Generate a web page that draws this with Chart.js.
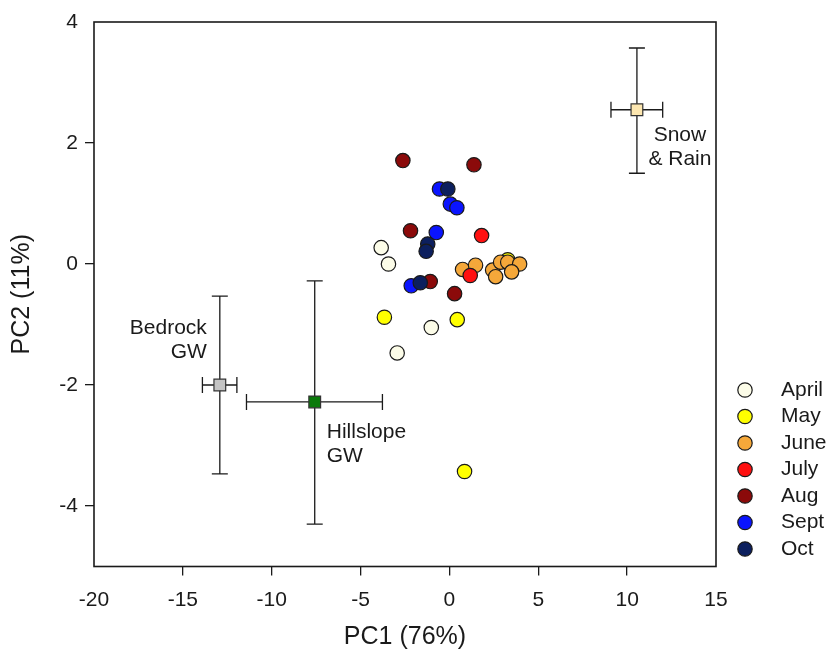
<!DOCTYPE html>
<html><head><meta charset="utf-8">
<script src="https://cdn.jsdelivr.net/npm/chart.js@4.4.1/dist/chart.umd.min.js"></script>
<style>html,body{margin:0;padding:0;background:#fff}#wrap{width:830px;height:656px}</style>
</head><body><div id="wrap"><canvas id="c" width="830" height="656"></canvas></div>
<script>
// ---- data ----
const xTicks = [-20, -15, -10, -5, 0, 5, 10, 15];
const yTicks = [-4, -2, 0, 2, 4];
const months = ['April', 'May', 'June', 'July', 'Aug', 'Sept', 'Oct'];
const monthColors = ['#fcfce8', '#ffff00', '#f5a83a', '#ff1010', '#8b0a0a', '#0a14ff', '#0c1f5e'];

const aprilX = [-3.84, -3.43, -1.02, -2.94];
const aprilY = [0.27, 0.00, -1.05, -1.47];
const mayX = [-3.66, 0.44, 0.85, 3.28];
const mayY = [-0.88, -0.92, -3.43, 0.07];
const juneX = [0.74, 1.47, 2.43, 2.60, 2.88, 3.28, 3.95, 3.50];
const juneY = [-0.09, -0.02, -0.10, -0.21, 0.03, 0.03, 0.00, -0.13];
const julyX = [1.81, 1.17];
const julyY = [0.47, -0.19];
const augX = [-2.62, 1.38, -2.19, -1.08, 0.29];
const augY = [1.71, 1.64, 0.55, -0.29, -0.49];
const septX = [-0.56, 0.05, 0.42, -0.74, -2.15];
const septY = [1.24, 0.99, 0.93, 0.52, -0.36];
const octX = [-0.09, -1.22, -1.31, -1.64];
const octY = [1.24, 0.33, 0.21, -0.31];

const monthXs = [aprilX, mayX, juneX, julyX, augX, septX, octX];
const monthYs = [aprilY, mayY, juneY, julyY, augY, septY, octY];

const sourceNames = ['Snow & Rain', 'Bedrock GW', 'Hillslope GW'];
const sourceLines = [['Snow', '& Rain'], ['Bedrock', 'GW'], ['Hillslope', 'GW']];
const sourceX = [10.55, -12.92, -7.58];
const sourceY = [2.55, -2.00, -2.28];
const sourceXLow = [9.09, -13.90, -11.42];
const sourceXHigh = [12.00, -11.96, -3.77];
const sourceYLow = [1.50, -3.47, -4.30];
const sourceYHigh = [3.57, -0.53, -0.28];
const sourceColors = ['#fde7b0', '#c4c4c4', '#0a7a0a'];

// ---- styles ----
const FONT = "'Liberation Sans', Arial, sans-serif";
const INK = '#1a1a1a';
const labelStyle = [
  { align: 'center', dx: 43, dy: 25 },
  { align: 'right', dx: -13, dy: -57 },
  { align: 'left', dx: 12, dy: 30 }
];

const datasets = [];
months.forEach((m, i) => {
  datasets.push({
    label: m,
    data: monthXs[i].map((x, k) => ({ x: x, y: monthYs[i][k] })),
    backgroundColor: monthColors[i],
    borderColor: INK,
    borderWidth: 1.2,
    pointRadius: 7.2,
    pointHoverRadius: 7.2,
    order: 20 - i
  });
});
sourceNames.forEach((s, i) => {
  datasets.push({
    label: s,
    data: [{ x: sourceX[i], y: sourceY[i] }],
    backgroundColor: sourceColors[i],
    borderColor: '#333',
    borderWidth: 1.2,
    pointStyle: 'rect',
    pointRadius: 8.3,
    pointHoverRadius: 8.3,
    order: 1
  });
});

const frameAndBars = {
  id: 'frameAndBars',
  beforeDatasetsDraw(chart) {
    const { ctx, scales: { x, y } } = chart;
    ctx.save();
    ctx.strokeStyle = INK;
    ctx.lineWidth = 1.3;
    const cap = 8;
    sourceNames.forEach((s, i) => {
      const px = x.getPixelForValue(sourceX[i]);
      const py = y.getPixelForValue(sourceY[i]);
      const yl = y.getPixelForValue(sourceYLow[i]);
      const yh = y.getPixelForValue(sourceYHigh[i]);
      const xl = x.getPixelForValue(sourceXLow[i]);
      const xh = x.getPixelForValue(sourceXHigh[i]);
      ctx.beginPath();
      ctx.moveTo(px, yl); ctx.lineTo(px, yh);
      ctx.moveTo(px - cap, yl); ctx.lineTo(px + cap, yl);
      ctx.moveTo(px - cap, yh); ctx.lineTo(px + cap, yh);
      ctx.moveTo(xl, py); ctx.lineTo(xh, py);
      ctx.moveTo(xl, py - cap); ctx.lineTo(xl, py + cap);
      ctx.moveTo(xh, py - cap); ctx.lineTo(xh, py + cap);
      ctx.stroke();
    });
    ctx.restore();
  },
  afterDraw(chart) {
    const { ctx, chartArea: a, scales: { x, y } } = chart;
    ctx.save();
    // frame
    ctx.strokeStyle = INK;
    ctx.lineWidth = 1.6;
    ctx.strokeRect(a.left, a.top, a.right - a.left, a.bottom - a.top);
    // source labels
    ctx.fillStyle = INK;
    ctx.font = '21px ' + FONT;
    ctx.textBaseline = 'middle';
    sourceNames.forEach((s, i) => {
      const px = x.getPixelForValue(sourceX[i]);
      const py = y.getPixelForValue(sourceY[i]);
      const st = labelStyle[i];
      ctx.textAlign = st.align;
      sourceLines[i].forEach((t, k) => {
        ctx.fillText(t, px + st.dx, py + st.dy + k * 24);
      });
    });
    // legend
    months.forEach((m, i) => {
      const cy = 390 + i * 26.5;
      ctx.beginPath();
      ctx.arc(745, cy, 7.2, 0, Math.PI * 2);
      ctx.fillStyle = monthColors[i];
      ctx.fill();
      ctx.lineWidth = 1.2;
      ctx.strokeStyle = INK;
      ctx.stroke();
      ctx.fillStyle = INK;
      ctx.textAlign = 'left';
      ctx.fillText(m, 781, cy);
    });
    ctx.restore();
  }
};

const edgeColor = (ctx, min, max) => {
  const v = ctx.tick ? ctx.tick.value : null;
  return (v === min || v === max) ? 'rgba(0,0,0,0)' : INK;
};

new Chart(document.getElementById('c'), {
  type: 'scatter',
  data: { datasets: datasets },
  options: {
    responsive: false,
    animation: false,
    devicePixelRatio: 1,
    layout: { padding: { top: 22, right: 114, left: 0, bottom: 0 } },
    plugins: { legend: { display: false }, tooltip: { enabled: false } },
    scales: {
      x: {
        type: 'linear', min: -20, max: 15,
        afterBuildTicks: s => { s.ticks = xTicks.map(v => ({ value: v })); },
        afterFit: s => { s.height = 89.5; },
        border: { display: false },
        grid: { drawOnChartArea: false, drawTicks: true, tickLength: 9, lineWidth: 1.3, color: c => edgeColor(c, -20, 15) },
        ticks: { color: INK, font: { family: FONT, size: 21 }, padding: 12, maxRotation: 0 },
        title: { display: true, text: 'PC1 (76%)', color: INK, font: { family: FONT, size: 25 }, padding: { top: 4, bottom: 4 } }
      },
      y: {
        type: 'linear', min: -5, max: 4,
        afterBuildTicks: s => { s.ticks = yTicks.map(v => ({ value: v })); },
        afterFit: s => { s.width = 94; },
        border: { display: false },
        grid: { drawOnChartArea: false, drawTicks: true, tickLength: 9, lineWidth: 1.3, color: c => edgeColor(c, -5, 4) },
        ticks: { color: INK, font: { family: FONT, size: 21 }, padding: 7 },
        title: { display: true, text: 'PC2 (11%)', color: INK, font: { family: FONT, size: 25 }, padding: { top: 7, bottom: 7 } }
      }
    }
  },
  plugins: [frameAndBars]
});
</script>
</body></html>
